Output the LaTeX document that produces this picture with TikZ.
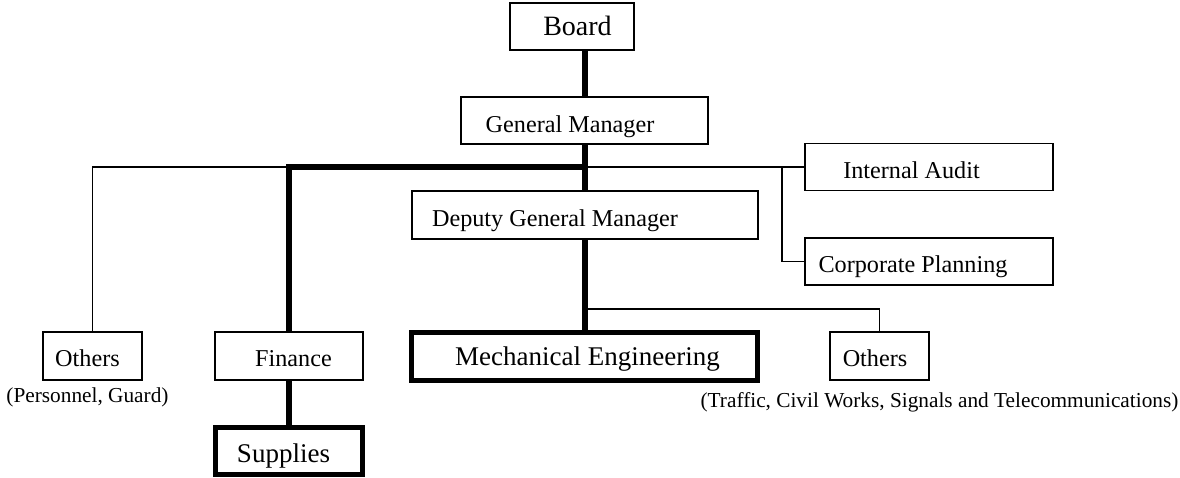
\documentclass[tikz,border=0pt]{standalone}
\usepackage{fontspec}
\setmainfont{Liberation Serif}
\begin{document}
\begin{tikzpicture}[x=1pt,y=-1pt,
  box/.style={draw, line width=1.3pt, inner sep=0pt, outer sep=0pt, fill=white},
  boldbox/.style={draw, line width=5pt, inner sep=0pt, outer sep=0pt, fill=white},
  txt/.style={anchor=base, inner sep=0pt},
  fbig/.style={font=\fontsize{28}{30}\selectfont},
  fmid/.style={font=\fontsize{24.2}{26}\selectfont},
  flarge/.style={font=\fontsize{27}{29}\selectfont},
  fsmall/.style={font=\fontsize{21.3}{23}\selectfont},
  thinline/.style={line width=1.3pt},
  thickline/.style={line width=5.5pt, line join=miter}]
\useasboundingbox (0,0) rectangle (1180,477);
% boxes
\node[box, minimum width=124pt, minimum height=47pt] (board) at (572,26.5) {};
\node[box, minimum width=247pt, minimum height=47pt] (gm) at (584.5,120.5) {};
\node[box, minimum width=346pt, minimum height=48pt] (dgm) at (585,215) {};
\node[box, minimum width=248pt, minimum height=47pt] (ia) at (929,167) {};
\node[box, minimum width=248pt, minimum height=47pt] (cp) at (929,261.5) {};
\node[box, minimum width=99pt, minimum height=48pt] (oth1) at (92.5,356) {};
\node[box, minimum width=148pt, minimum height=48pt] (fin) at (289,356) {};
\node[boldbox, minimum width=346pt, minimum height=48pt] (me) at (584.5,356.5) {};
\node[box, minimum width=99pt, minimum height=48pt] (oth2) at (879.5,356) {};
\node[boldbox, minimum width=147pt, minimum height=47pt] (sup) at (289,450.5) {};
% connectors
\coordinate (hub) at (585,167);
\coordinate (cpj) at (782,167);
\coordinate (oj) at (585,309);
\draw[thickline] (gm.north -| hub) -- (board.south -| hub);
\draw[thickline] (gm.south -| hub) -- (dgm.north -| hub);
\draw[thinline] (hub -| fin.north) -- (hub -| oth1.north) -- (oth1.north);
\draw[thinline] (hub) -- (hub -| ia.west);
\draw[thinline] (cpj) -- (cpj |- cp.west) -- (cp.west);
\draw[thinline] (oj) -- (oj -| oth2.north) -- (oth2.north);
\draw[thickline] (hub) -- (hub -| fin.north) -- (fin.north);
\draw[thickline] (dgm.south -| hub) -- (me.north -| hub);
\draw[thickline] (fin.south) -- (sup.north);
% texts
\node[txt, fbig] (tboard) at (577.5,35) {Board};
\node[txt, fmid] (tgm) at (570,132) {General Manager};
\node[txt, fmid] (tdgm) at (555,226) {Deputy General Manager};
\node[txt, fmid] (tia) at (911.5,178) {Internal Audit};
\node[txt, fmid] (tcp) at (913,272) {Corporate Planning};
\node[txt, fmid] (toth1) at (87.5,366) {Others};
\node[txt, fmid] (tfin) at (293.5,366) {Finance};
\node[txt, flarge] (tsup) at (283.5,462) {Supplies};
\node[txt, flarge] (tme) at (587.5,365) {Mechanical Engineering};
\node[txt, fmid] (toth2) at (875,366) {Others};
\node[txt, fsmall] (tpers) at (87.5,402) {(Personnel, Guard)};
\node[txt, fsmall] (ttraf) at (939.5,407) {(Traffic, Civil Works, Signals and Telecommunications)};
\end{tikzpicture}
\end{document}
